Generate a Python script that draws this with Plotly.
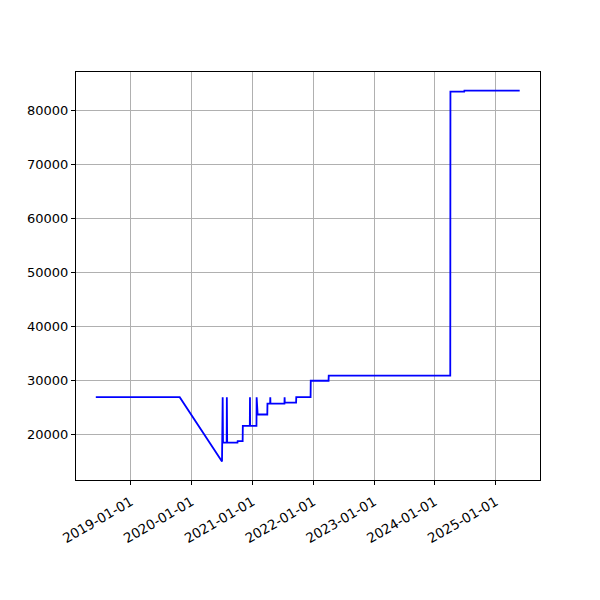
import plotly.graph_objects as go

dates = [
    "2018-06-05", "2019-10-22", "2020-07-02",
    "2020-07-06", "2020-07-08", "2020-07-30", "2020-07-31", "2020-08-02",
    "2020-10-03", "2020-10-04", "2020-11-03", "2020-11-04",
    "2020-12-16", "2020-12-17", "2020-12-18",
    "2021-01-25", "2021-01-26", "2021-02-01",
    "2021-03-31", "2021-04-01",
    "2021-04-17", "2021-04-18", "2021-04-19",
    "2021-07-12", "2021-07-13", "2021-07-14",
    "2021-09-20", "2021-09-21",
    "2021-12-16", "2021-12-17",
    "2022-04-03", "2022-04-04",
    "2024-04-03", "2024-04-04",
    "2024-06-26", "2024-06-27",
    "2025-05-25",
]
values = [
    26900, 26900, 15000,
    26900, 18500, 18500, 26900, 18500,
    18500, 18750, 18750, 21600,
    21600, 26900, 21600,
    21600, 26900, 23700,
    23700, 25700,
    25700, 26900, 25700,
    25700, 26900, 25900,
    25900, 26900,
    26900, 29950,
    29950, 30900,
    30900, 83500,
    83500, 83700,
    83700,
]

tick_years = ["2019-01-01", "2020-01-01", "2021-01-01", "2022-01-01",
              "2023-01-01", "2024-01-01", "2025-01-01"]
y_ticks = [20000, 30000, 40000, 50000, 60000, 70000, 80000]

fig = go.Figure()
fig.add_trace(go.Scatter(x=dates, y=values, mode="lines",
                         line=dict(color="blue", width=1.8), showlegend=False))

axis_common = dict(showline=True, linecolor="black", linewidth=1, mirror=True,
                   ticks="outside", ticklen=4, tickcolor="black",
                   showgrid=True, gridcolor="#b0b0b0", gridwidth=0.8,
                   zeroline=False)

fig.update_xaxes(type="date", range=["2018-02-06", "2025-09-24"],
                 tickvals=tick_years, ticktext=tick_years, tickangle=-30,
                 tickfont=dict(size=13.5, color="black"), ticklabelstandoff=4,
                 **axis_common)
fig.update_yaxes(range=[11565, 87135], tickvals=y_ticks,
                 ticktext=[str(v) for v in y_ticks],
                 tickfont=dict(size=13, color="black"), **axis_common)

fig.update_layout(width=600, height=600,
                  margin=dict(l=68, r=68, t=64, b=128),
                  paper_bgcolor="white", plot_bgcolor="white",
                  font=dict(family="DejaVu Sans", size=13, color="black"))

fig.write_html("out.html")
